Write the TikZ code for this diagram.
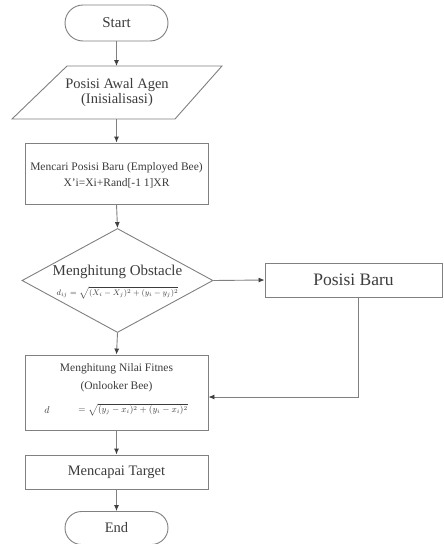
\documentclass[tikz,border=0pt]{standalone}
\usepackage{fontspec}
\setmainfont{Liberation Serif}
\usetikzlibrary{arrows.meta,shapes.geometric,shapes.misc}
\definecolor{linec}{HTML}{808080}
\definecolor{textc}{HTML}{3C3C3C}
\begin{document}
\begin{tikzpicture}[x=1pt,y=-1pt,
  every node/.style={text=textc},
  box/.style={draw=linec, line width=0.9pt, rectangle, inner sep=0pt},
  term/.style={draw=linec, line width=0.9pt, rounded rectangle, inner sep=0pt, minimum width=103pt, minimum height=36pt},
  lbl/.style={inner sep=0pt, align=center},
  arr/.style={draw=linec, line width=0.9pt, -{Latex[length=6pt,width=5pt,color=black!75]}},
  ln/.style={draw=linec, line width=0.9pt}]
\useasboundingbox (0,0) rectangle (444,544);
\fill[white] (0,0) rectangle (444,544);

% Start
\node[term] (start) at (116.5,23) {\fontsize{15}{17}\selectfont Start};

% Parallelogram
\node[lbl, minimum width=160pt, minimum height=53pt] (init) at (117,92.5)
  {\fontsize{14.5}{19}\selectfont Posisi Awal Agen\\[1pt]\fontsize{14.5}{19}\selectfont (Inisialisasi)};
\draw[ln] (67,66) -- (222,66) -- (175,119) -- (12,119) -- cycle;

% Employed bee
\node[box, minimum width=183pt, minimum height=61pt] (emp) at (116.5,173.5) {};
\node[lbl] (empt) at (116.5,168) {\fontsize{11.5}{13}\selectfont Mencari Posisi Baru (Employed Bee)};
\node[lbl] (empf) at (116.5,183) {\fontsize{11.5}{13}\selectfont X'i=Xi+Rand[-1 1]XR};

% Diamond
\node[diamond, draw=linec, line width=0.9pt, minimum width=191pt, minimum height=104pt, inner sep=0pt, aspect=1.84] (dia) at (117.5,280.5) {};
\node[lbl] (diat) at (117.5,271.5) {\fontsize{15}{17}\selectfont Menghitung Obstacle};
\node[lbl] (diaf) at (117.5,293) {\fontsize{8}{9}\selectfont $d_{ij} = \sqrt{(X_i - X_j)^2 + (y_i - y_j)^2}$};

% Posisi Baru
\node[box, minimum width=177pt, minimum height=34pt] (pb) at (353.5,280) {\fontsize{17.5}{19}\selectfont Posisi Baru};

% Fitnes
\node[box, minimum width=183pt, minimum height=75pt] (fit) at (116.5,392.5) {};
\node[lbl] (fit1) at (116.5,369) {\fontsize{11.5}{13}\selectfont Menghitung Nilai Fitnes};
\node[lbl] (fit2) at (116.5,387) {\fontsize{11.5}{13}\selectfont (Onlooker Bee)};
\node[lbl] (fitd) at (47,410) {\fontsize{10}{11}\selectfont $d$};
\node[lbl] (fitf) at (133,410) {\fontsize{9}{10}\selectfont $= \sqrt{(y_j - x_i)^2 + (y_i - x_i)^2}$};

% Mencapai Target
\node[box, minimum width=183pt, minimum height=34pt] (tgt) at (116.5,472) {\fontsize{14.5}{16}\selectfont Mencapai Target};

% End
\node[term, minimum height=33pt] (end) at (116.5,528) {\fontsize{14.5}{16}\selectfont End};

% connectors
\coordinate (iN) at (116.5,66);
\coordinate (iS) at (116.5,119);
\draw[arr] (start.south) -- (iN);
\draw[arr] (iS) -- (emp.north);
\draw[arr] (emp.south) -- (dia.north);
\draw[arr] (dia.east) -- (pb.west);
\draw[arr] (dia.south) -- (fit.north);
\coordinate (c1) at (358,397);
\draw[arr] (pb.south -| c1) -- (c1) -- (fit.east |- c1);
\draw[arr] (fit.south) -- (tgt.north);
\draw[arr] (tgt.south) -- (end.north);
\end{tikzpicture}
\end{document}
